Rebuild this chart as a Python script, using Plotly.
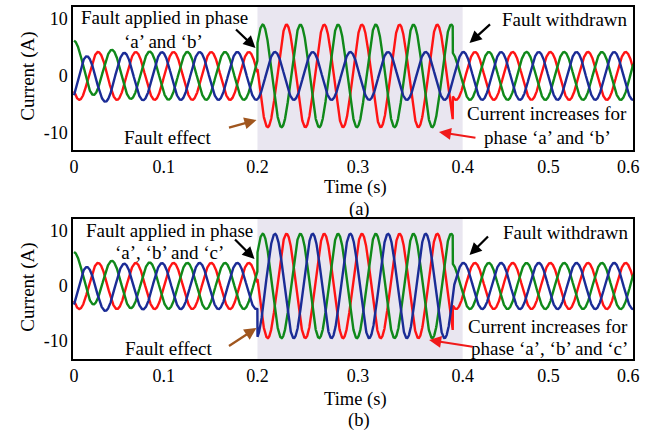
import numpy as np
import plotly.graph_objects as go
from plotly.subplots import make_subplots

# ---- waveform parameters -------------------------------------------------
phase_names = ["a", "b", "c"]
phase_colors = ["#FF1414", "#10891A", "#1B2C96"]
freq_hz = 24.34                       # supply frequency of the test system
crest_time = [0.2317, 0.2468, 0.2191]  # time of one crest per phase (s)
amp_normal = [4.2, 4.2, 4.2]          # healthy amplitude (A)
amp_fault_ab = [9.0, 9.0, 4.2]        # amplitude during the a-b fault (A)
amp_fault_abc = [9.5, 9.5, 9.5]       # amplitude during the a-b-c fault (A)
dc_offset = [0.0, 2.0, -1.3]          # switch-on offset per phase (A)
dc_tau = 0.025                        # decay of the switch-on offset (s)
fault_on, fault_off = 0.2, 0.413      # fault interval (s)
fault_band = [0.2, 0.4237]            # shaded fault window (s)

# ---- axis labels -------------------------------------------------------
x_tick_labels = ["0", "0.1", "0.2", "0.3", "0.4", "0.5", "0.6"]
x_tick_at = [0.0, 0.0978, 0.2, 0.3097, 0.4237, 0.5172, 0.6043]
y_tick_labels = ["-10", "0", "10"]
y_tick_at = [-10, 0, 10]

t = np.linspace(0.0, 0.6097, 4000)


def phase_current(k, fault_amp):
    wave = np.cos(2 * np.pi * freq_hz * (t - crest_time[k]))
    in_fault = (t >= fault_on) & (t < fault_off)
    amp = np.where(in_fault, fault_amp[k], amp_normal[k])
    return amp * wave + dc_offset[k] * np.exp(-t / dc_tau)


W, H = 657, 432
FONT = "Liberation Serif"


def px(x):
    return x / W


def py(y):
    return 1 - y / H


fig = make_subplots(rows=2, cols=1)

for row, fault_amp in ((1, amp_fault_ab), (2, amp_fault_abc)):
    for k, name in enumerate(phase_names):
        fig.add_trace(
            go.Scatter(x=t, y=phase_current(k, fault_amp), mode="lines",
                       name=f"Phase {name}", showlegend=False,
                       line=dict(color=phase_colors[k], width=2.4)),
            row=row, col=1)
    xa = "x" if row == 1 else "x2"
    fig.add_shape(type="rect", xref=xa, yref=("y" if row == 1 else "y2") + " domain",
                  x0=fault_band[0], x1=fault_band[1], y0=0, y1=1,
                  fillcolor="#E9E6F0", line_width=0, layer="below")

axis_common = dict(showgrid=False, zeroline=False, showline=True, mirror=True,
                   linecolor="black", linewidth=1.5, ticks="",
                   tickfont=dict(family=FONT, size=18, color="black"))

x_dom = [71 / W, 639 / W]
fig.update_xaxes(range=[-0.0011, 0.6097], domain=x_dom, tickmode="array",
                 tickvals=x_tick_at, ticktext=x_tick_labels, **axis_common)
fig.update_yaxes(tickmode="array", tickvals=y_tick_at, ticktext=y_tick_labels,
                 **axis_common)
fig.update_layout(
    yaxis=dict(domain=[py(150), py(7)], range=[-13.0, 12.1]),
    yaxis2=dict(domain=[py(359), py(219)], range=[-13.3, 12.2]),
)

BIG, SMALL = 19, 18.5
text_items = [
    # panel (a)
    ("Fault applied in phase", 164, 18, BIG), ("\u2018a\u2019 and \u2018b\u2019", 163, 42, BIG),
    ("Fault effect", 167, 137, BIG), ("Fault withdrawn", 570, 20, BIG),
    ("Current increases for", 552, 113, BIG),
    ("phase \u2018a\u2019 and \u2018b\u2019", 552, 137, BIG),
    ("Time (s)", 357, 188, SMALL), ("(a)", 361, 209, SMALL),
    # panel (b)
    ("Fault applied in phase", 169, 230, BIG),
    ("\u2018a\u2019, \u2018b\u2019 and \u2018c\u2019", 169, 252, BIG),
    ("Fault effect", 168, 348, BIG), ("Fault withdrawn", 571, 232, BIG),
    ("Current increases for", 553, 326, BIG),
    ("phase \u2018a\u2019, \u2018b\u2019 and \u2018c\u2019", 554, 348, BIG),
    ("Time (s)", 357, 399, SMALL), ("(b)", 361, 420, SMALL),
]
annotations = []
for txt, x, y, fs in text_items:
    annotations.append(dict(text=txt, x=px(x), y=py(y), xref="paper", yref="paper",
                            xanchor="center", yanchor="middle", showarrow=False,
                            borderpad=0,
                            font=dict(family=FONT, size=fs, color="black")))
for y in (76, 287):
    annotations.append(dict(text="Current (A)", x=px(25), y=py(y), xref="paper",
                            yref="paper", textangle=-90, showarrow=False,
                            xanchor="center", yanchor="middle", borderpad=0,
                            font=dict(family=FONT, size=19, color="black")))

arrows = [
    # (tail x, tail y, head x, head y, colour)
    (235, 28, 256, 48, "black"), (228, 128, 257, 120, "#A0561E"),
    (495, 23, 473, 43, "black"), (480, 138, 442, 132, "#F01A1A"),
    (234, 238, 255, 259, "black"), (228, 347, 257, 328, "#A0561E"),
    (493, 235, 473, 255, "black"), (477, 347, 432, 340, "#F01A1A"),
]
for x0, y0, x1, y1, c in arrows:
    annotations.append(dict(x=px(x1), y=py(y1), xref="paper", yref="paper",
                            ax=x0 - x1, ay=y0 - y1, axref="pixel", ayref="pixel",
                            text="", showarrow=True, arrowhead=2, arrowsize=1.1,
                            arrowwidth=2.2, arrowcolor=c))

fig.update_layout(width=W, height=H, margin=dict(l=0, r=0, t=0, b=0),
                  autosize=False, paper_bgcolor="white", plot_bgcolor="white",
                  showlegend=False, annotations=annotations)

fig.write_html("out.html")
